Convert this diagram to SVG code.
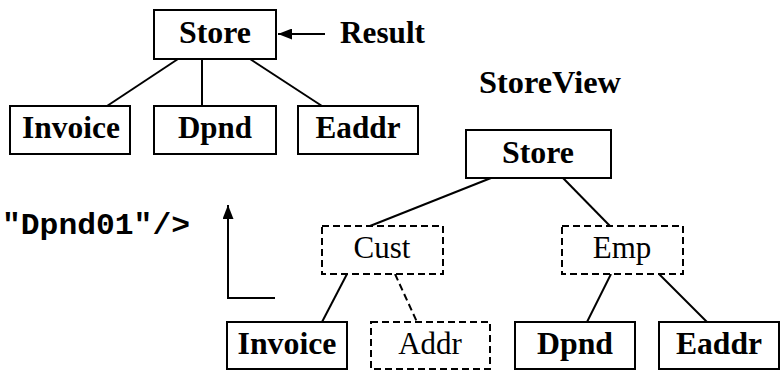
<svg xmlns="http://www.w3.org/2000/svg" width="781" height="370" viewBox="0 0 781 370">
<style>
.box{fill:#fff;stroke:#000;stroke-width:2}
.dbox{fill:#fff;stroke:#000;stroke-width:2;stroke-dasharray:7,4}
.ln{stroke:#000;stroke-width:2;fill:none}
.dln{stroke:#000;stroke-width:2;fill:none;stroke-dasharray:7,4}
text{fill:#000;font-family:"Liberation Serif","Times New Roman",serif;font-size:31px}
.b{font-weight:bold}
.c{text-anchor:middle}
.m{font-family:"Liberation Mono","Courier New",monospace;font-size:30px;font-weight:bold}
</style>
<defs>
<marker id="ah" viewBox="0 0 14 11" refX="14" refY="5.5" markerWidth="14" markerHeight="11" markerUnits="userSpaceOnUse" orient="auto">
<path d="M0,0 L14,5.5 L0,11 z" fill="#000"/>
</marker>
</defs>
<g id="connectors">
<line class="ln" x1="178" y1="59" x2="107" y2="106"/>
<line class="ln" x1="202" y1="59" x2="202" y2="106"/>
<line class="ln" x1="250" y1="59" x2="322" y2="106"/>
<line class="ln" x1="325" y1="34" x2="278" y2="34" marker-end="url(#ah)"/>
<polyline class="ln" points="275,298 228,298 228,205" marker-end="url(#ah)"/>
<line class="ln" x1="491" y1="178" x2="370" y2="226"/>
<line class="ln" x1="563" y1="178" x2="610" y2="226"/>
<line class="ln" x1="347" y1="274" x2="322" y2="322"/>
<line class="dln" x1="395" y1="274" x2="417" y2="322"/>
<line class="ln" x1="611" y1="274" x2="587" y2="322"/>
<line class="ln" x1="659" y1="274" x2="707" y2="322"/>
</g>
<g id="result-store"><rect class="box" x="154" y="10" width="122" height="49"/><text class="b c" x="215" y="43" textLength="72" lengthAdjust="spacingAndGlyphs">Store</text></g>
<g id="result-label"><text class="b" x="340" y="43" textLength="85" lengthAdjust="spacingAndGlyphs">Result</text></g>
<g id="result-invoice"><rect class="box" x="10" y="106" width="120" height="48"/><text class="b c" x="71" y="138" textLength="98" lengthAdjust="spacingAndGlyphs">Invoice</text></g>
<g id="result-dpnd"><rect class="box" x="154" y="106" width="122" height="48"/><text class="b c" x="215" y="138" textLength="74" lengthAdjust="spacingAndGlyphs">Dpnd</text></g>
<g id="result-eaddr"><rect class="box" x="298" y="106" width="120" height="48"/><text class="b c" x="358" y="138" textLength="85" lengthAdjust="spacingAndGlyphs">Eaddr</text></g>
<g id="storeview-label"><text class="b c" x="550" y="93" textLength="142" lengthAdjust="spacingAndGlyphs">StoreView</text></g>
<g id="view-store"><rect class="box" x="466" y="130" width="145" height="48"/><text class="b c" x="538" y="163" textLength="72" lengthAdjust="spacingAndGlyphs">Store</text></g>
<g id="view-cust"><rect class="dbox" x="322" y="226" width="121" height="48"/><text class="c" x="382" y="258">Cust</text></g>
<g id="view-emp"><rect class="dbox" x="562" y="226" width="121" height="48"/><text class="c" x="622" y="258">Emp</text></g>
<g id="view-invoice"><rect class="box" x="227" y="322" width="120" height="47"/><text class="b c" x="287" y="354" textLength="99" lengthAdjust="spacingAndGlyphs">Invoice</text></g>
<g id="view-addr"><rect class="dbox" x="371" y="322" width="119" height="47"/><text class="c" x="430" y="354">Addr</text></g>
<g id="view-dpnd"><rect class="box" x="515" y="322" width="120" height="47"/><text class="b c" x="575" y="354" textLength="76" lengthAdjust="spacingAndGlyphs">Dpnd</text></g>
<g id="view-eaddr"><rect class="box" x="659" y="322" width="120" height="47"/><text class="b c" x="719" y="354" textLength="86" lengthAdjust="spacingAndGlyphs">Eaddr</text></g>
<g id="code-label"><text class="m" x="2" y="234" textLength="188" lengthAdjust="spacingAndGlyphs">"Dpnd01"/&gt;</text></g>
</svg>
